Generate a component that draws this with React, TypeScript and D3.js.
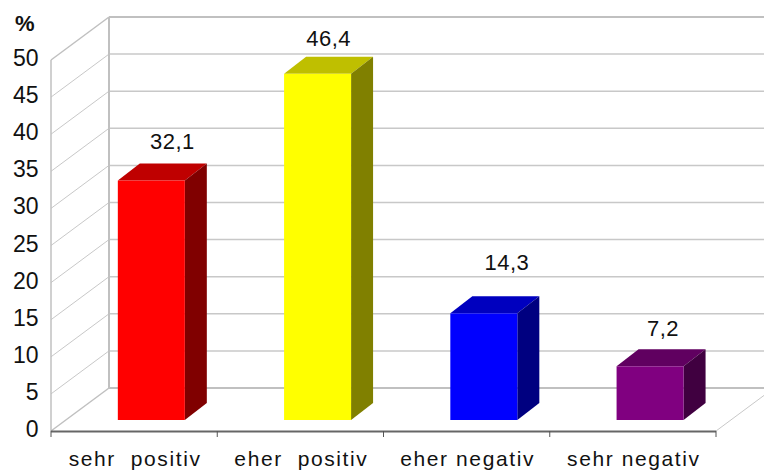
import React from "react";
import * as d3 from "d3";

const categories = ["sehr  positiv", "eher  positiv", "eher negativ", "sehr negativ"];
const values = [32.1, 46.4, 14.3, 7.2];
const valueLabels = ["32,1", "46,4", "14,3", "7,2"];
const frontColors = ["#ff0000", "#ffff00", "#0000ff", "#800080"];
const topColors = ["#bf0000", "#bfbf00", "#0000bf", "#600060"];
const sideColors = ["#800000", "#808000", "#000080", "#400040"];
const ticks = [0, 5, 10, 15, 20, 25, 30, 35, 40, 45, 50];

const W = 764, H = 471;
const depthX = 58, depthY = 43;
const barDX = 22, barDY = 17;
const FONT = "'Liberation Sans', Arial, sans-serif";
const GRID = "#c8c8c8";
const WALL = "#c0c0c0";

const labelDX = [0, -10, 2, -8];
const labelDY = [0, 4, -11, 2];

const y = d3.scaleLinear().domain([0, 50]).range([431, 60]);
const yBar = d3.scaleLinear().domain([0, 50]).range([420, 47]);
const x = d3.scaleBand<string>().domain(categories).range([51, 716]);
const barW = 67;
const barOffset = 17.2;

export default function App() {
  const bw = x.bandwidth();
  return (
    <svg width={W} height={H} style={{ position: "absolute", left: 0, top: 0, background: "#fff" }}>
      {ticks.map((t) => (
        <g key={t}>
          {t > 0 && t < 50 && (
            <>
              <line x1={51} x2={51 + depthX} y1={y(t)} y2={y(t) - depthY} stroke={GRID} strokeWidth={1} />
              <line x1={51 + depthX} x2={W} y1={y(t) - depthY} y2={y(t) - depthY} stroke={GRID} strokeWidth={1.5} />
            </>
          )}
        </g>
      ))}
      <line x1={51} x2={51} y1={y(50)} y2={y(0)} stroke={WALL} strokeWidth={1.5} />
      <line x1={51 + depthX} x2={51 + depthX} y1={y(50) - depthY} y2={y(0) - depthY} stroke={WALL} strokeWidth={2} />
      <line x1={51} x2={51 + depthX} y1={y(50)} y2={y(50) - depthY} stroke={WALL} strokeWidth={1.5} />
      <line x1={51} x2={51 + depthX} y1={y(0)} y2={y(0) - depthY} stroke={WALL} strokeWidth={1.5} />
      <line x1={51 + depthX} x2={W} y1={y(50) - depthY} y2={y(50) - depthY} stroke={WALL} strokeWidth={2} />
      <line x1={51 + depthX} x2={W} y1={y(0) - depthY} y2={y(0) - depthY} stroke={WALL} strokeWidth={2} />
      <line x1={716} x2={716 + depthX} y1={y(0)} y2={y(0) - depthY} stroke={GRID} strokeWidth={1} />

      {categories.map((c, i) => {
        const left = (x(c) as number) + bw / 2 + barOffset - barW / 2;
        const right = left + barW;
        const top = yBar(values[i]);
        const bottom = yBar(0);
        return (
          <g key={c}>
            <polygon
              points={`${left},${top} ${left + barDX},${top - barDY} ${right + barDX},${top - barDY} ${right},${top}`}
              fill={topColors[i]}
            />
            <polygon
              points={`${right},${top} ${right + barDX},${top - barDY} ${right + barDX},${bottom - barDY} ${right},${bottom}`}
              fill={sideColors[i]}
            />
            <rect x={left} y={top} width={barW} height={bottom - top} fill={frontColors[i]} />
            <text
              x={left + barW / 2 + 21 + labelDX[i]}
              y={top - 32 + labelDY[i]}
              textAnchor="middle"
              fontFamily={FONT}
              fontSize={22}
              letterSpacing={0.5}
              fill="#111"
            >
              {valueLabels[i]}
            </text>
          </g>
        );
      })}

      <line x1={51} x2={716} y1={431.5} y2={431.5} stroke="#666" strokeWidth={2} />
      {[...categories.map((c) => x(c) as number), 716].map((px) => (
        <line key={px} x1={px} x2={px} y1={431} y2={437} stroke="#555" strokeWidth={1} />
      ))}
      {categories.map((c) => (
        <text
          key={c}
          x={(x(c) as number) + bw / 2 + 1}
          y={466}
          textAnchor="middle"
          fontFamily={FONT}
          fontSize={21}
          letterSpacing={1.6}
          fill="#111"
          style={{ whiteSpace: "pre" }}
        >
          {c}
        </text>
      ))}

      {ticks.map((t) => (
        <text
          key={t}
          x={38.5}
          y={y(t) + 6}
          textAnchor="end"
          fontFamily={FONT}
          fontSize={23}
          fill="#111"
        >
          {t}
        </text>
      ))}
      <text x={15} y={31} fontFamily={FONT} fontSize={22} fontWeight="bold" fill="#111">%</text>
    </svg>
  );
}
